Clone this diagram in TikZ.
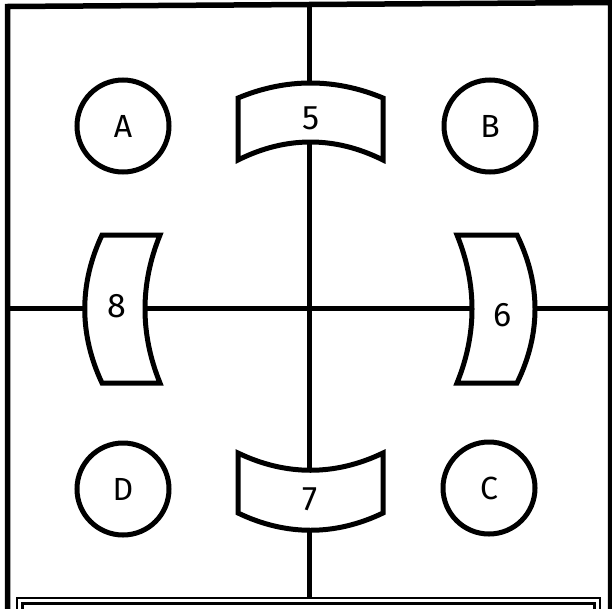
\documentclass[tikz,border=0pt]{standalone}
\usepackage{fontspec}
\setmainfont{Fira Sans}

\begin{document}
\begin{tikzpicture}[x=1pt, y=-1pt, line width=5pt,
    lbl/.style={font=\fontsize{34}{36}\selectfont, inner sep=0pt},
    disc/.style={circle, draw, minimum size=92pt, inner sep=0pt, font=\fontsize{32}{34}\selectfont},
    seat/.style={draw, fill=white, line join=miter}]
    \useasboundingbox (0,0) rectangle (612,608);
    % Frame
    \draw[line width=5.5pt] (7.5,612) -- (7.5,6.5) -- (610.5,2.5) -- (610.5,612);
    % Cross
    \coordinate (top) at (309.5,3);
    \coordinate (bot) at (309.5,600);
    \coordinate (lft) at (7.5,308.5);
    \coordinate (rgt) at (610.5,308.5);
    \draw (top) -- (bot);
    \draw (lft) -- (rgt);
    % Curved seats
    \draw[seat] (238,98) .. controls (286,78) and (335,78) .. (383,98) -- (383,160)
        .. controls (335,136) and (286,136) .. (238,160) -- cycle;
    \node[lbl] (n5) at (311,118) {5};
    \draw[seat] (238,453) .. controls (286,476) and (335,476) .. (383,453) -- (383,513)
        .. controls (335,536) and (286,536) .. (238,513) -- cycle;
    \node[lbl] (n7) at (310,499) {7};
    \draw[seat] (102,235) -- (160,235) .. controls (140,284) and (140,334) .. (160,383)
        -- (102,383) .. controls (79,334) and (79,284) .. (102,235) -- cycle;
    \node[lbl] (n8) at (117,306) {8};
    \draw[seat] (457,235) -- (517,235) .. controls (541,284) and (541,334) .. (517,383)
        -- (457,383) .. controls (477,334) and (477,284) .. (457,235) -- cycle;
    \node[lbl] (n6) at (503,315) {6};
    % Tables
    \foreach \n/\x/\y in {A/123/126, B/490/126, D/123/489, C/489/488}
        \node[disc, fill=white] (\n) at (\x,\y) {\n};
    % Bottom box
    \fill[white] (16.5,597.5) rectangle (599.5,612);
    \draw[line width=2pt] (16.5,612) -- (16.5,597.5) -- (599.5,597.5) -- (599.5,612);
    \draw[line width=3pt] (22,612) -- (22,603.5) -- (594,603.5) -- (594,612);
\end{tikzpicture}
\end{document}
